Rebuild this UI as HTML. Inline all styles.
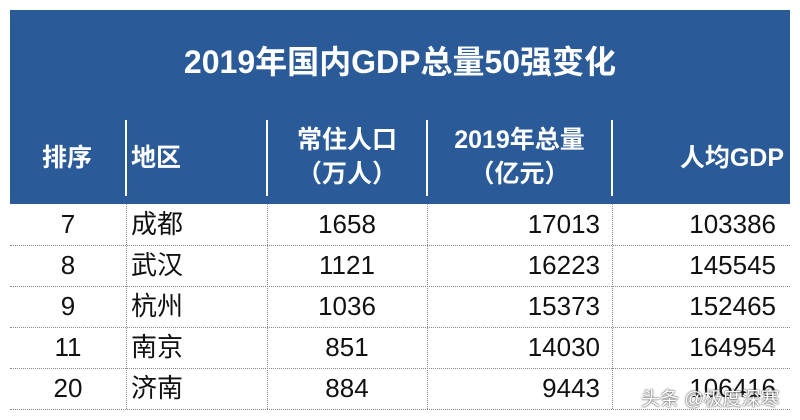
<!DOCTYPE html>
<html><head><meta charset="utf-8"><style>
body{margin:0;width:800px;height:420px;background:#fff;overflow:hidden;position:relative;font-family:"Liberation Sans","Noto Sans CJK SC",sans-serif}
.hd{position:absolute;left:10px;top:10px;width:780px;height:194px;background:#2a5a98}
.t{position:absolute;left:0;width:800px;top:37px;text-align:center;color:#fff;font-weight:bold;font-size:32px}
.h{position:absolute;color:#fff;font-weight:bold;font-size:25px;line-height:34px}
.vl{position:absolute;top:120px;height:76px;width:2px;background:#fff}
.c{position:absolute;font-size:26px;color:#111;line-height:41px;height:41px}
.hl{position:absolute;left:10px;width:780px;border-top:1px dotted #888}
.dv{position:absolute;top:204px;height:205px;border-left:1px dotted #888}
.wm{position:absolute;left:641px;top:384px;font-size:19px;color:#fff;text-shadow:0 0 2px #555,0 0 1px #333}
</style></head><body>
<div class="hd"></div>
<div class="t">2019年国内GDP总量50强变化</div>
<div class="h" style="left:42px;top:141px">排序</div>
<div class="vl" style="left:125px"></div>
<div class="h" style="left:131px;top:141px">地区</div>
<div class="vl" style="left:266px"></div>
<div class="h" style="left:267px;width:160px;text-align:center;top:123px">常住人口<br>（万人）</div>
<div class="vl" style="left:426px"></div>
<div class="h" style="left:427px;width:185px;text-align:center;top:123px">2019年总量<br>（亿元）</div>
<div class="vl" style="left:611px"></div>
<div class="h" style="left:612px;width:172px;text-align:right;top:141px">人均GDP</div>
<div class="dv" style="left:126px"></div><div class="dv" style="left:267px"></div><div class="dv" style="left:427px"></div><div class="dv" style="left:612px"></div>
<div id="rows"></div>
<div class="wm">头条 @极度深寒</div>
<script>
const ranks=["7","8","9","11","20"];
const cities=["成都","武汉","杭州","南京","济南"];
const pop=["1658","1121","1036","851","884"];
const gdp=["17013","16223","15373","14030","9443"];
const per=["103386","145545","152465","164954","106416"];
const R=document.getElementById('rows');
function cell(txt,l,w,al,top,name){const d=document.createElement('div');d.className='c';d.style.left=l+'px';d.style.width=w+'px';d.style.textAlign=al;d.style.top=top+'px';d.textContent=txt;


R.appendChild(d);}
ranks.forEach((r,i)=>{const y=204+i*41;
cell(r,10,116,'center',y,'rank-cell');
cell(cities[i],131,130,'left',y,'city-cell');
cell(pop[i],267,160,'center',y,'population-cell');
cell(gdp[i],427,173,'right',y,'gdp-cell');
cell(per[i],612,164,'right',y,'gdp-per-capita-cell');
const l=document.createElement('div');l.className='hl';l.style.top=(245+i*41)+'px';


R.appendChild(l);});
</script>
</body></html>
